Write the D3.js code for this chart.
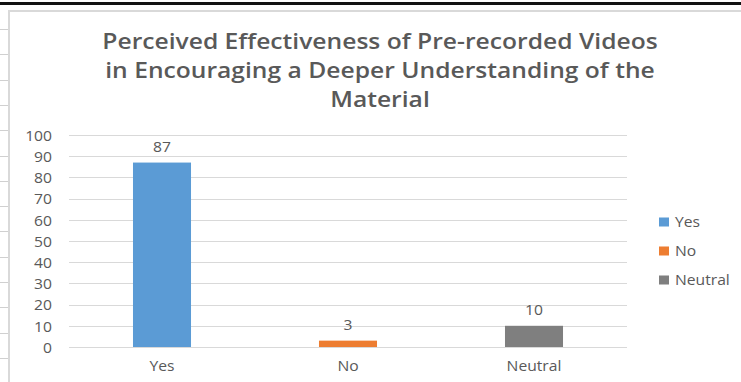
<!DOCTYPE html>
<html>
<head>
<meta charset="utf-8">
<script src="https://cdn.jsdelivr.net/npm/d3@7/dist/d3.min.js"></script>
<style>
  html, body { margin: 0; padding: 0; background: #fff; }
  svg { display: block; }
</style>
</head>
<body>
<svg id="chart" width="741" height="382"></svg>
<script>
// Survey responses
const categories = ["Yes", "No", "Neutral"];
const values = [87, 3, 10];
const colors = ["#5b9bd5", "#ed7d31", "#7f7f7f"];
const yTicks = [0, 10, 20, 30, 40, 50, 60, 70, 80, 90, 100];
const titleLines = [
  "Perceived Effectiveness of Pre-recorded Videos",
  "in Encouraging a Deeper Understanding of the",
  "Material"
];

const svg = d3.select("#chart");
const W = 741, H = 382;
const font = "'Open Sans', 'Noto Sans', sans-serif";
const textColor = "#595959";
const labelSize = 14.5;
const stretch = 1.08;   // slightly wide lettering

// Place a text element at (x, y) with horizontal stretching
function placeText(sel, x, y, sx) {
  return sel.attr("transform", `translate(${x},${y}) scale(${sx},1)`);
}

// Sheet backdrop: dark rule along the top and faint row lines on the left edge
svg.append("rect").attr("x", 0).attr("y", 0).attr("width", W).attr("height", H).attr("fill", "#fff");
svg.append("rect").attr("x", 0).attr("y", 2).attr("width", W).attr("height", 3).attr("fill", "#111");
const rowLines = d3.range(29, H, 25.3);
svg.selectAll("line.row").data(rowLines).join("line")
  .attr("x1", 0).attr("x2", 8)
  .attr("y1", d => Math.round(d) + 0.5).attr("y2", d => Math.round(d) + 0.5)
  .attr("stroke", "#d0d0d0").attr("stroke-width", 1);

// Chart frame
svg.append("path")
  .attr("d", `M9,${H} L9,11 L${W},11`)
  .attr("fill", "none").attr("stroke", "#d9d9d9").attr("stroke-width", 2);

// Title
const titleBase = [48.5, 77.5, 106.5];
titleLines.forEach((t, i) => {
  placeText(svg.append("text"), 380, titleBase[i], 1.12)
    .attr("text-anchor", "middle")
    .attr("font-family", font).attr("font-weight", 600)
    .attr("font-size", 22).attr("fill", textColor)
    .text(t);
});

// Scales
const plot = { left: 69, right: 627, top: 135, bottom: 347 };
const x = d3.scaleBand().domain(categories).range([plot.left, plot.right]).padding(0);
const y = d3.scaleLinear().domain([0, 100]).range([plot.bottom, plot.top]);
const barW = x.bandwidth() * 0.312;

// Gridlines
svg.append("g")
  .selectAll("line").data(yTicks).join("line")
  .attr("x1", plot.left).attr("x2", plot.right)
  .attr("y1", d => Math.round(y(d)) + 0.5).attr("y2", d => Math.round(y(d)) + 0.5)
  .attr("stroke", "#d9d9d9").attr("stroke-width", 1);

// Y axis labels
const yAxis = svg.append("g")
  .attr("transform", `translate(${plot.left - 17},0)`)
  .call(d3.axisLeft(y).tickValues(yTicks).tickSize(0).tickPadding(0));
yAxis.select(".domain").remove();
yAxis.selectAll("text")
  .attr("x", 0).attr("dy", "0.36em")
  .attr("transform", `scale(${stretch},1)`)
  .attr("font-family", font).attr("font-size", labelSize).attr("fill", textColor);

// X axis labels
const xAxis = svg.append("g")
  .attr("transform", `translate(0,${plot.bottom})`)
  .call(d3.axisBottom(x).tickSize(0).tickPadding(14));
xAxis.select(".domain").remove();
xAxis.selectAll("text")
  .attr("transform", `scale(${stretch},1)`)
  .attr("font-family", font).attr("font-size", labelSize).attr("fill", textColor);

// Bars
svg.append("g").selectAll("rect").data(categories).join("rect")
  .attr("x", (d) => x(d) + (x.bandwidth() - barW) / 2)
  .attr("y", (d, i) => y(values[i]))
  .attr("width", barW)
  .attr("height", (d, i) => y(0) - y(values[i]))
  .attr("fill", (d, i) => colors[i]);

// Value labels
svg.append("g").selectAll("text").data(categories).join("text")
  .each(function (d, i) {
    placeText(d3.select(this), x(d) + x.bandwidth() / 2, y(values[i]) - 11, stretch);
  })
  .attr("text-anchor", "middle")
  .attr("font-family", font).attr("font-size", labelSize).attr("fill", textColor)
  .text((d, i) => values[i]);

// Legend
const legendY = [222, 251, 280];
categories.forEach((c, i) => {
  svg.append("rect")
    .attr("x", 659).attr("y", legendY[i] - 4.5).attr("width", 10).attr("height", 9)
    .attr("fill", colors[i]);
  placeText(svg.append("text"), 675, legendY[i], stretch)
    .attr("dy", "0.36em")
    .attr("font-family", font).attr("font-size", labelSize).attr("fill", textColor)
    .text(c);
});
</script>
</body>
</html>
